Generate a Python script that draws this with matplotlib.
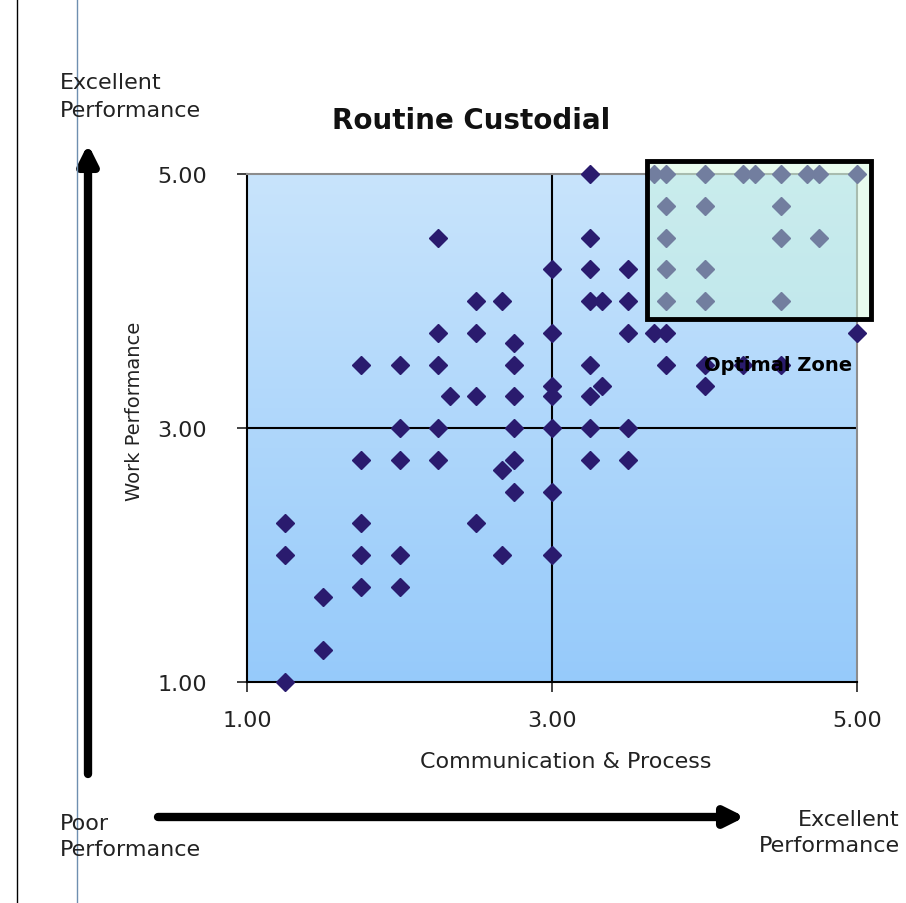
import numpy as np
import matplotlib
matplotlib.use('Agg')
import matplotlib.pyplot as plt
from matplotlib.patches import Rectangle
from matplotlib.lines import Line2D

# Puntuaciones (Comunicacion, Trabajo)
comm = [1.25, 1.25, 1.25,
        1.5, 1.5,
        1.75, 1.75, 1.75, 1.75, 1.75,
        2.0, 2.0, 2.0, 2.0, 2.0,
        2.25, 2.25, 2.25, 2.25, 2.25,
        2.33,
        2.5, 2.5, 2.5, 2.5,
        2.67, 2.67, 2.67,
        2.75, 2.75, 2.75, 2.75, 2.75, 2.75,
        3.0, 3.0, 3.0, 3.0, 3.0, 3.0, 3.0,
        3.25, 3.25, 3.25, 3.25, 3.25, 3.25, 3.25, 3.25,
        3.33, 3.33,
        3.5, 3.5, 3.5, 3.5, 3.5,
        3.67, 3.67,
        3.75, 3.75, 3.75, 3.75, 3.75, 3.75, 3.75,
        4.0, 4.0, 4.0, 4.0, 4.0, 4.0,
        4.25, 4.25,
        4.33,
        4.5, 4.5, 4.5, 4.5, 4.5,
        4.67,
        4.75, 4.75,
        5.0, 5.0]
work = [2.25, 2.0, 1.0,
        1.67, 1.25,
        3.5, 2.75, 2.25, 2.0, 1.75,
        3.5, 3.0, 2.75, 2.0, 1.75,
        4.5, 3.75, 3.5, 3.0, 2.75,
        3.25,
        4.0, 3.75, 3.25, 2.25,
        4.0, 2.67, 2.0,
        3.67, 3.5, 3.25, 3.0, 2.75, 2.5,
        4.25, 3.75, 3.33, 3.25, 3.0, 2.5, 2.0,
        5.0, 4.5, 4.25, 4.0, 3.5, 3.25, 3.0, 2.75,
        4.0, 3.33,
        4.25, 4.0, 3.75, 3.0, 2.75,
        5.0, 3.75,
        5.0, 4.75, 4.5, 4.25, 4.0, 3.75, 3.5,
        5.0, 4.75, 4.25, 4.0, 3.5, 3.33,
        5.0, 3.5,
        5.0,
        5.0, 4.75, 4.5, 4.0, 3.5,
        5.0,
        5.0, 4.5,
        5.0, 3.75]

ticks = [1.0, 3.0, 5.0]
tick_labels = ['1.00', '3.00', '5.00']

W, H = 906, 904
fig = plt.figure(figsize=(W / 100, H / 100), dpi=100)
fig.patch.set_facecolor('white')

ax = fig.add_axes([247 / W, 1 - 683 / H, 610 / W, 508 / H])

# Fondo degradado del area de trazado
top = np.array([200, 228, 252]) / 255
bot = np.array([150, 202, 250]) / 255
t = np.linspace(0, 1, 256)[:, None]
grad = (top * (1 - t) + bot * t)[:, None, :]
ax.imshow(grad, extent=[1, 5, 1, 5], aspect='auto', zorder=0, origin='upper')

ax.set_xlim(1, 5)
ax.set_ylim(1, 5)

# Lineas de cuadrante
ax.axvline(3, color='black', lw=1.5, zorder=1)
ax.axhline(3, color='black', lw=1.5, zorder=1)

ax.plot(comm, work, linestyle='none', marker='D', ms=9,
        color='#2a1b6e', mec='#2a1b6e', zorder=3, clip_on=False)

# Zona optima
ax.add_patch(Rectangle((3.62, 3.86), 1.47, 1.24, facecolor=(0.80, 0.97, 0.86, 0.45),
                       edgecolor='black', lw=3.5, zorder=4, clip_on=False))
ax.text(4.0, 3.5, 'Optimal Zone', fontsize=14, fontweight='bold',
        ha='left', va='center', color='black', zorder=5)

ax.set_xticks(ticks)
ax.set_xticklabels(tick_labels)
ax.set_yticks(ticks)
ax.set_yticklabels(tick_labels)
ax.tick_params(axis='both', direction='out', length=7, width=1.2,
               labelsize=16, colors='#222222', pad=13)
ax.tick_params(axis='y', pad=22)

for s in ['left', 'bottom']:
    ax.spines[s].set_color('black')
    ax.spines[s].set_linewidth(1.5)
for s in ['top', 'right']:
    ax.spines[s].set_color('#8c8c8c')
    ax.spines[s].set_linewidth(1.5)

fig.text(566 / W, 1 - 762 / H, 'Communication & Process', fontsize=16,
         ha='center', va='center', color='#222222')
fig.text(135 / W, 1 - 411 / H, 'Work Performance', fontsize=14, rotation=90,
         ha='center', va='center', color='#222222')
fig.text(471 / W, 1 - 121 / H, 'Routine Custodial', fontsize=20, fontweight='bold',
         ha='center', va='center', color='#111111')

# Flechas de rendimiento
fig.text(60 / W, 1 - 97 / H, 'Excellent\nPerformance', fontsize=16,
         ha='left', va='center', color='#222222', linespacing=1.45)
fig.text(60 / W, 1 - 837 / H, 'Poor\nPerformance', fontsize=16,
         ha='left', va='center', color='#222222', linespacing=1.4)
fig.text(900 / W, 1 - 833 / H, 'Excellent\nPerformance', fontsize=16,
         ha='right', va='center', color='#222222', linespacing=1.4, multialignment='right')

ax.annotate('', xy=(88, H - 145), xytext=(88, H - 775),
            xycoords='figure pixels', textcoords='figure pixels',
            arrowprops=dict(arrowstyle='-|>', lw=6, color='black', mutation_scale=28,
                            shrinkA=0, shrinkB=0))
ax.annotate('', xy=(745, H - 818), xytext=(158, H - 818),
            xycoords='figure pixels', textcoords='figure pixels',
            arrowprops=dict(arrowstyle='-|>', lw=6, color='black', mutation_scale=28,
                            shrinkA=0, shrinkB=0))

# Lineas verticales del borde izquierdo
fig.add_artist(Line2D([17 / W, 17 / W], [0, 1], color='black', lw=1))
fig.add_artist(Line2D([77 / W, 77 / W], [0, 1], color='#6f8fb0', lw=1))

fig.savefig('out.png', dpi=100)
